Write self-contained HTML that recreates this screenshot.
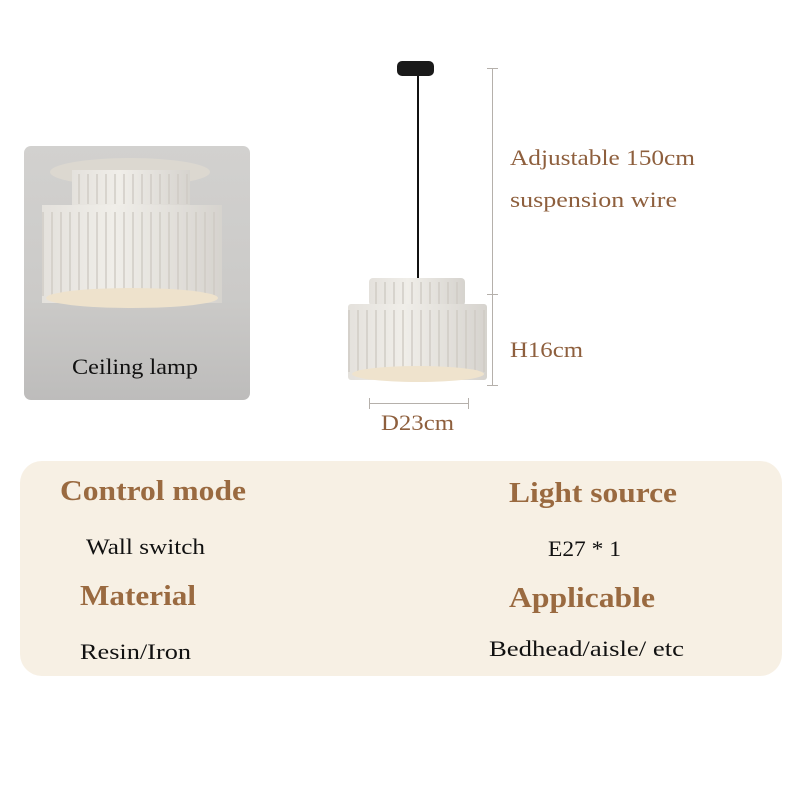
<!DOCTYPE html>
<html><head><meta charset="utf-8"><style>body{margin:0;background:#fff}svg{display:block}</style></head><body>
<svg width="800" height="800" viewBox="0 0 800 800" xmlns="http://www.w3.org/2000/svg" font-family="Liberation Serif, serif">
<defs>
<linearGradient id="bg" x1="0" y1="0" x2="0" y2="1"><stop offset="0" stop-color="#d2d1cf"/><stop offset="0.6" stop-color="#cbcac8"/><stop offset="1" stop-color="#bdbcbb"/></linearGradient>
<linearGradient id="sh" x1="0" y1="0" x2="1" y2="0"><stop offset="0" stop-color="#e4e1dc"/><stop offset="0.4" stop-color="#f0eee9"/><stop offset="1" stop-color="#d6d3ce"/></linearGradient>
<pattern id="rib" width="9" height="10" patternUnits="userSpaceOnUse"><rect x="6" width="2" height="10" fill="#cfcbc4" opacity="0.7"/></pattern>
<clipPath id="cc"><rect x="24" y="146" width="226" height="254" rx="7"/></clipPath>
</defs>
<g clip-path="url(#cc)">
<rect x="24" y="146" width="226" height="254" fill="url(#bg)"/>
<ellipse cx="130" cy="172" rx="80" ry="14" fill="#dcd8d0"/>
<rect x="72" y="170" width="118" height="36" fill="url(#sh)"/>
<rect x="72" y="174" width="118" height="30" fill="url(#rib)"/>
<rect x="42" y="205" width="180" height="98" fill="url(#sh)"/>
<rect x="42" y="212" width="180" height="84" fill="url(#rib)"/>
<ellipse cx="132" cy="298" rx="86" ry="10" fill="#eee2cc"/>
</g>
<text x="72" y="374" font-size="22" textLength="126" lengthAdjust="spacingAndGlyphs" fill="#111">Ceiling lamp</text>

<rect x="397" y="61" width="37" height="15" rx="5" fill="#1a1a1a"/>
<rect x="417" y="76" width="2" height="204" fill="#111"/>
<rect x="369" y="278" width="96" height="28" rx="4" fill="url(#sh)"/>
<rect x="369" y="282" width="96" height="22" fill="url(#rib)"/>
<rect x="348" y="304" width="139" height="76" rx="3" fill="url(#sh)"/>
<rect x="348" y="310" width="139" height="62" fill="url(#rib)"/>
<ellipse cx="418" cy="374" rx="66" ry="8" fill="#efe3cd"/>

<g stroke="#b5b0ab" stroke-width="1" fill="none">
<line x1="492.5" y1="68" x2="492.5" y2="386"/>
<line x1="487" y1="68.5" x2="498" y2="68.5"/>
<line x1="487" y1="294.5" x2="498" y2="294.5"/>
<line x1="487" y1="385.5" x2="498" y2="385.5"/>
<line x1="369" y1="403.5" x2="468" y2="403.5"/>
<line x1="369.5" y1="398" x2="369.5" y2="409"/>
<line x1="468.5" y1="398" x2="468.5" y2="409"/>
</g>
<g fill="#8e5f3d" font-size="22">
<text x="510" y="165" textLength="185" lengthAdjust="spacingAndGlyphs">Adjustable 150cm</text>
<text x="510" y="207" textLength="167" lengthAdjust="spacingAndGlyphs">suspension wire</text>
<text x="510" y="357" textLength="73" lengthAdjust="spacingAndGlyphs">H16cm</text>
<text x="381" y="430" textLength="73" lengthAdjust="spacingAndGlyphs">D23cm</text>
</g>

<rect x="20" y="461" width="762" height="215" rx="22" fill="#f7f0e4"/>
<g fill="#9a6a40" font-size="28" font-weight="bold">
<text x="60" y="500" textLength="186" lengthAdjust="spacingAndGlyphs">Control mode</text>
<text x="509" y="502" textLength="168" lengthAdjust="spacingAndGlyphs">Light source</text>
<text x="80" y="605" textLength="116" lengthAdjust="spacingAndGlyphs">Material</text>
<text x="509" y="607" textLength="146" lengthAdjust="spacingAndGlyphs">Applicable</text>
</g>
<g fill="#111" font-size="22">
<text x="86" y="554" textLength="119" lengthAdjust="spacingAndGlyphs">Wall switch</text>
<text x="548" y="556" textLength="73" lengthAdjust="spacingAndGlyphs">E27 * 1</text>
<text x="80" y="659" textLength="111" lengthAdjust="spacingAndGlyphs">Resin/Iron</text>
<text x="489" y="656" textLength="195" lengthAdjust="spacingAndGlyphs">Bedhead/aisle/ etc</text>
</g>
</svg>
</body></html>
